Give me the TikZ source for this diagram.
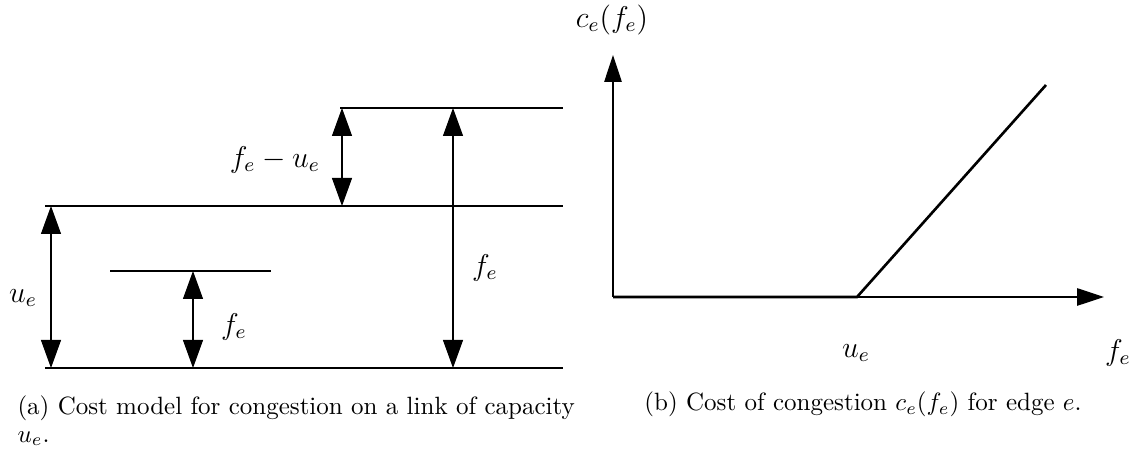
\documentclass[tikz,border=0pt]{standalone}
\usetikzlibrary{arrows.meta}
\begin{document}
\begin{tikzpicture}[x=0.4pt,y=-0.4pt,
  thinline/.style={line width=0.45pt},
  thickline/.style={line width=1.05pt},
  dim/.style={line width=0.45pt,{Triangle[length=11.2pt,width=8pt]}-{Triangle[length=11.2pt,width=8pt]}},
  axis/.style={line width=0.45pt,-{Triangle[length=10.8pt,width=7pt]}},
  lab/.style={inner sep=0pt,font=\large},
  captext/.style={inner sep=0pt,font=\fontsize{10}{11.2}\selectfont}]
\useasboundingbox (0,0) rectangle (1140,451);
% left diagram
\coordinate (t1) at (340,108); \coordinate (t2) at (563,108);
\coordinate (m1) at (108,206); \coordinate (m2) at (563,206); \coordinate (m0) at (45,206);
\coordinate (s1) at (110,271); \coordinate (s2) at (271,271);
\coordinate (b1) at (108,368); \coordinate (b2) at (563,368); \coordinate (b0) at (45,368);
\draw[thinline] (t1) -- (t2);
\draw[thickline] (m1) -- (m2);
\draw[thinline] (m0) -- (m1);
\draw[thinline] (s1) -- (s2);
\draw[thickline] (b1) -- (b2);
\draw[thinline] (b0) -- (b1);
\coordinate (a1t) at (51,206); \coordinate (a1b) at (51,368);
\coordinate (a2t) at (193,271); \coordinate (a2b) at (193,368);
\coordinate (a3t) at (342,108); \coordinate (a3b) at (342,206);
\coordinate (a4t) at (453,108); \coordinate (a4b) at (453,368);
\draw[dim] (a1t) -- (a1b);
\draw[dim] (a2t) -- (a2b);
\draw[dim] (a3t) -- (a3b);
\draw[dim] (a4t) -- (a4b);
\node[lab] (lu) at (23,298) {$u_e$};
\node[lab] (lf1) at (234,327) {$f_e$};
\node[lab] (lfu) at (275,160) {$f_e - u_e$};
\node[lab] (lf2) at (485,268) {$f_e$};
% right diagram
\coordinate (o) at (613,297);
\coordinate (ytip) at (613,55);
\coordinate (xtip) at (1104,297);
\coordinate (k) at (857,297);
\coordinate (e) at (1046,85);
\draw[axis] (o) -- (ytip);
\draw[axis] (o) -- (xtip);
\draw[thickline] (o) -- (k) -- (e);
\node[lab] (lc) at (612,20) {$c_e(f_e)$};
\node[lab] (lue) at (856,353) {$u_e$};
\node[lab] (lfe) at (1118,353) {$f_e$};
% captions
\node[captext,anchor=north west,align=left] (ca) at (17,395) {(a) Cost model for congestion on a link of capacity\\$u_e$.};
\node[captext,anchor=base] (cb) at (863,411) {(b) Cost of congestion $c_e(f_e)$ for edge $e$.};
\end{tikzpicture}
\end{document}
